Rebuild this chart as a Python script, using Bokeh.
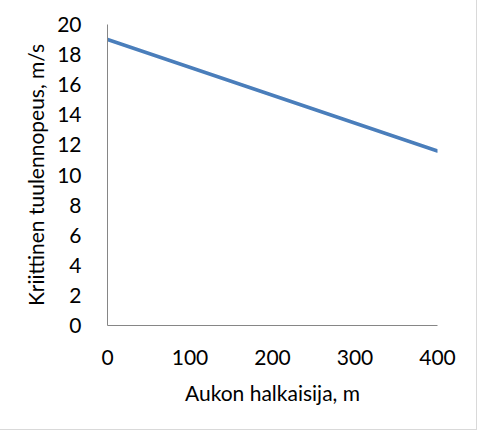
from bokeh.plotting import figure
from bokeh.models import Range1d, FixedTicker
from bokeh.embed import file_html
from bokeh.resources import INLINE

# Data
diameter_m = [0, 400]
critical_speed = [19.0, 11.6]
x_ticks = [0, 100, 200, 300, 400]
y_ticks = [0, 2, 4, 6, 8, 10, 12, 14, 16, 18, 20]
x_title = "Aukon halkaisija, m"
y_title = "Kriittinen tuulennopeus, m/s"

FONT = "Lato"
AXIS_COLOR = "#868686"

p = figure(width=477, height=430, output_backend="svg", toolbar_location=None,
           x_range=Range1d(0, 400), y_range=Range1d(0, 20),
           min_border_left=107, min_border_top=24, min_border_right=40,
           min_border_bottom=105)
p.outline_line_color = None
p.grid.visible = False
p.styles = {"border-right": "1px solid #d9d9d9",
            "border-bottom": "1px solid #d9d9d9"}

p.line(diameter_m, critical_speed, line_color="#4A7EBB", line_width=3.6,
       line_cap="round")

for ax in (p.xaxis[0], p.yaxis[0]):
    ax.axis_line_color = AXIS_COLOR
    ax.major_tick_line_color = None
    ax.minor_tick_line_color = None
    ax.major_label_text_font = FONT
    ax.major_label_text_font_size = "21px"
    ax.major_label_text_color = "#000000"
    ax.axis_label_text_font = FONT
    ax.axis_label_text_font_size = "21px"
    ax.axis_label_text_font_style = "normal"
    ax.axis_label_text_color = "#000000"

p.xaxis.ticker = FixedTicker(ticks=x_ticks)
p.yaxis.ticker = FixedTicker(ticks=y_ticks)
p.xaxis.axis_label = x_title
p.yaxis.axis_label = y_title
p.xaxis.major_label_standoff = 18
p.xaxis.axis_label_standoff = 12
p.yaxis.major_label_standoff = 20
p.yaxis.axis_label_standoff = 6

open("out.html", "w").write(file_html(p, INLINE))
